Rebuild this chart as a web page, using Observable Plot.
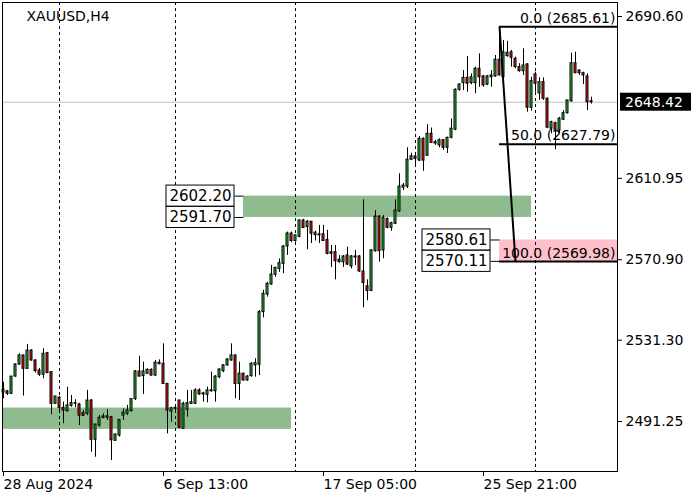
<!DOCTYPE html>
<html><head><meta charset="utf-8">
<script src="https://cdn.jsdelivr.net/npm/d3@7"></script>
<script src="https://cdn.jsdelivr.net/npm/@observablehq/plot@0.6"></script>
<style>body{margin:0;background:#fff} #chart{width:700px;height:500px}</style>
</head><body><div id="chart"></div>
<script>
// ---- data (XAUUSD H4 bars) ----
const open = [2506.9,2506.1,2504.9,2513.4,2519.3,2523.8,2517.2,2526.2,2521.3,2516.4,
2514.3,2524.9,2515.6,2500.0,2503.0,2498.0,2496.4,2499.0,2500.0,2499.7,
2495.4,2495.1,2501.6,2482.3,2489.3,2493.1,2493.1,2493.4,2481.8,2484.4,
2494.2,2495.1,2496.4,2502.3,2515.9,2513.6,2514.8,2516.7,2513.9,2520.2,
2519.7,2509.8,2496.2,2497.5,2501.6,2487.7,2497.1,2500.0,2500.0,2506.6,
2504.6,2504.4,2506.2,2506.2,2513.1,2516.1,2518.9,2521.3,2523.8,2509.8,
2514.8,2511.5,2513.6,2518.9,2519.2,2545.1,2553.8,2558.7,2563.5,2566.4,
2568.9,2577.4,2583.8,2580.1,2582.2,2590.2,2587.0,2589.6,2583.0,2582.9,
2583.4,2580.6,2574.6,2574.6,2570.9,2569.7,2573.0,2567.6,2572.0,2572.5,
2565.1,2557.8,2555.5,2575.1,2592.1,2575.5,2591.0,2586.6,2588.6,2594.7,
2606.4,2606.9,2620.1,2621.7,2619.7,2630.4,2622.1,2632.9,2628.1,2627.2,
2629.7,2626.0,2630.9,2634.9,2654.5,2657.8,2660.4,2657.8,2657.8,2664.9,
2661.1,2657.1,2660.7,2661.1,2669.3,2660.7,2671.1,2673.0,2669.8,2665.7,
2663.7,2667.0,2645.7,2662.1,2652.8,2658.3,2650.1,2635.4,2638.1,2634.5,
2639.8,2643.0,2648.9,2667.6,2664.0,2662.7,2661.1,2648.9];
const high = [2510.6,2506.6,2513.4,2519.7,2524.6,2524.0,2529.2,2526.6,2521.8,2517.4,
2527.1,2525.3,2515.9,2503.6,2503.6,2500.8,2508.2,2504.1,2502.0,2500.2,
2496.7,2506.6,2502.1,2489.8,2494.2,2495.1,2497.1,2493.8,2484.9,2492.1,
2497.5,2499.2,2502.3,2516.4,2523.4,2520.5,2517.2,2517.2,2521.3,2521.6,
2529.5,2509.8,2498.3,2499.2,2501.8,2500.8,2506.6,2506.6,2507.4,2507.4,
2505.7,2508.2,2515.6,2513.9,2517.2,2519.3,2522.2,2529.5,2524.0,2520.5,
2515.1,2513.9,2520.2,2522.2,2545.9,2555.8,2559.8,2568.1,2567.2,2571.3,
2577.9,2584.5,2584.5,2582.9,2590.5,2590.8,2590.2,2589.7,2585.0,2587.8,
2587.8,2585.4,2577.9,2577.9,2573.0,2573.0,2577.1,2573.0,2575.5,2573.0,
2600.4,2561.0,2575.8,2595.1,2592.6,2592.6,2591.5,2589.4,2600.4,2613.2,
2608.4,2626.0,2623.3,2622.2,2631.5,2630.9,2637.4,2635.7,2629.7,2630.4,
2630.0,2631.2,2640.2,2655.0,2657.5,2664.0,2670.9,2662.4,2665.7,2672.2,
2661.6,2661.6,2664.0,2671.4,2685.61,2678.8,2678.4,2673.9,2670.6,2667.4,
2674.7,2667.4,2660.7,2663.2,2660.4,2660.4,2650.6,2639.1,2638.6,2641.0,
2644.3,2649.3,2672.5,2673.0,2664.4,2663.2,2662.4,2650.9];
const low = [2502.5,2504.1,2504.6,2513.1,2518.9,2503.8,2517.0,2521.0,2515.1,2513.4,
2512.3,2514.9,2494.6,2499.7,2495.9,2490.2,2495.9,2498.3,2498.0,2489.3,
2493.8,2494.2,2476.2,2473.7,2488.5,2492.6,2491.8,2472.1,2481.5,2483.6,
2491.8,2494.2,2495.9,2501.6,2513.1,2504.6,2514.4,2513.6,2513.4,2519.2,
2509.5,2485.2,2490.9,2496.7,2487.7,2487.5,2493.4,2499.7,2499.7,2504.2,
2500.8,2500.5,2505.7,2500.8,2512.3,2515.3,2518.5,2521.0,2502.5,2501.6,
2511.1,2511.1,2513.1,2513.1,2513.9,2542.3,2552.5,2558.4,2562.3,2564.7,
2564.0,2573.0,2579.3,2579.6,2581.7,2586.2,2575.8,2578.9,2580.1,2578.9,
2579.9,2573.3,2567.1,2561.0,2569.2,2567.1,2568.1,2566.4,2568.1,2564.7,
2547.2,2550.7,2555.3,2574.6,2569.7,2571.4,2586.1,2584.9,2588.2,2594.2,
2604.9,2605.9,2619.7,2616.8,2619.2,2614.4,2621.8,2628.1,2627.2,2626.0,
2624.7,2623.2,2630.4,2634.4,2653.8,2654.2,2653.3,2657.0,2652.6,2655.8,
2655.8,2656.6,2655.8,2660.7,2661.3,2659.1,2670.6,2665.7,2664.9,2663.2,
2661.6,2643.5,2644.0,2653.3,2649.3,2649.3,2635.4,2632.9,2625.0,2632.9,
2639.4,2642.6,2648.4,2662.4,2661.6,2657.1,2644.3,2647.5];
const close = [2505.6,2504.9,2513.4,2519.3,2523.8,2517.2,2526.2,2521.3,2516.1,2514.3,
2524.6,2515.1,2500.0,2503.6,2498.0,2496.7,2499.2,2500.3,2500.3,2494.2,
2494.1,2501.6,2482.3,2489.8,2493.1,2493.8,2493.8,2482.0,2484.9,2492.1,
2495.7,2496.7,2502.3,2515.9,2513.4,2515.9,2516.7,2513.9,2520.2,2519.5,
2509.8,2496.7,2497.8,2498.0,2488.2,2500.0,2500.3,2500.8,2506.6,2504.6,
2505.1,2506.6,2506.6,2513.4,2516.9,2518.9,2521.8,2523.8,2509.8,2514.8,
2511.5,2513.4,2519.7,2520.0,2545.1,2554.1,2559.0,2563.6,2566.9,2569.2,
2577.4,2583.8,2580.1,2582.9,2590.2,2586.5,2589.6,2583.7,2584.2,2583.4,
2580.1,2573.8,2573.8,2570.2,2569.7,2572.5,2568.5,2572.5,2572.5,2565.1,
2559.4,2555.5,2575.5,2592.1,2575.1,2591.5,2586.6,2588.9,2595.1,2606.9,
2607.4,2620.1,2621.8,2620.5,2630.4,2619.7,2632.9,2628.4,2628.8,2629.7,
2626.0,2630.9,2635.4,2654.5,2657.1,2660.4,2657.5,2660.7,2664.9,2660.7,
2656.7,2661.1,2661.6,2669.3,2661.6,2673.0,2672.7,2670.3,2665.7,2663.7,
2666.5,2645.7,2658.8,2657.5,2658.3,2650.1,2635.9,2638.6,2634.5,2640.3,
2643.0,2649.3,2667.6,2662.7,2662.7,2661.6,2648.4,2648.42];

const yTicks = [2690.60, 2610.95, 2570.90, 2531.30, 2491.25];
const xTickIdx = [0, 40, 80, 120];
const xTickLabels = ["28 Aug 2024", "6 Sep 13:00", "17 Sep 05:00", "25 Sep 21:00"];
const gridIdx = [14, 43, 73, 103, 133];
const lastPrice = 2648.42;

// zones (rectangles)
const zoneLow   = [2591.70, 2570.11, 2487.40];
const zoneHigh  = [2602.20, 2580.61, 2497.90];
const zoneStart = [60, 124, null];
const zoneEnd   = [132, null, 72];
const zoneLabelled = [true, true, false];

// Fibonacci retracement
const fibLevels = [0, 50, 100];
const fibPrices = [2685.61, 2627.79, 2569.98];
const fibFrom = 124, fibTo = 128;

// ---- build ----
const X0 = -0.25, X1 = 153.5;
const bars = d3.range(open.length).map(i => ({i, o: open[i], h: high[i], l: low[i], c: close[i]}));
const bull = bars.filter(d => d.c >= d.o), bear = bars.filter(d => d.c < d.o);
const zoneColors = ["#8fbc8f", "#ffc0cb", "#8fbc8f"];
const zones = zoneLow.map((lo, k) => ({lo, hi: zoneHigh[k], x1: zoneStart[k] ?? X0, x2: zoneEnd[k] ?? X1, k}));
const boxes = [];
zones.forEach((z, k) => { if (zoneLabelled[k]) { [z.hi, z.lo].forEach(p => boxes.push({p, start: z.x1, end: z.x1 - 2.25})); } });
const halfBox = 5.2;

const candleBody = (data, fill) => Plot.rect(data, {x1: d => d.i - 0.25, x2: d => d.i + 0.25, y1: "o", y2: "c", fill, stroke: "black", strokeWidth: 1});

const chart = Plot.plot({
  width: 700, height: 500,
  marginLeft: 2, marginRight: 83, marginTop: 2, marginBottom: 29,
  x: {domain: [X0, X1]},
  y: {domain: [2466.68, 2697.49]},
  style: {fontFamily: "DejaVu Sans", fontSize: "14px", color: "black", background: "white", overflow: "visible"},
  marks: [
    ...zones.map((z, k) => Plot.rect([z], {x1: "x1", x2: "x2", y1: "lo", y2: "hi", fill: zoneColors[k]})),
    Plot.ruleX(gridIdx, {stroke: "black", strokeDasharray: "3,3"}),
    Plot.ruleY([lastPrice], {stroke: "#c0c0c0"}),
    Plot.ruleX(bars, {x: "i", y1: "l", y2: "h", stroke: "black"}),
    candleBody(bull, "#2dc22d"),
    candleBody(bear, "#e41b1b"),
    // zone price labels
    Plot.link(boxes, {x1: "end", x2: "start", y1: "p", y2: "p", stroke: "black"}),
    Plot.rect(boxes, {x1: d => d.end - 17, x2: "end", y1: d => d.p - halfBox, y2: d => d.p + halfBox, fill: "white", stroke: "black"}),
    Plot.text(boxes, {x: d => d.end - 8.5, y: "p", text: d => d.p.toFixed(2), textAnchor: "middle", fill: "black", fontSize: 15}),
    // fibonacci
    Plot.ruleY(fibPrices, {x1: fibFrom, x2: X1, stroke: "black", strokeWidth: 2}),
    Plot.link([0], {x1: fibFrom, y1: fibPrices[0], x2: fibTo, y2: fibPrices[2], stroke: "black", strokeWidth: 2}),
    Plot.text(fibLevels, {x: X1, y: (d, i) => fibPrices[i], text: (d, i) => `${d.toFixed(1)} (${fibPrices[i].toFixed(2)})`, textAnchor: "end", lineAnchor: "bottom", dx: -2, dy: -4, fill: "black"}),
    // axes
    Plot.axisY({anchor: "right", ticks: yTicks, tickFormat: d => d.toFixed(2), tickSize: 4, tickPadding: 4}),
    Plot.axisX({anchor: "bottom", ticks: xTickIdx, tickFormat: d => xTickLabels[xTickIdx.indexOf(d)], tickSize: 5, tickPadding: 3, textAnchor: "start"}),
    Plot.frame({stroke: "black"}),
    Plot.text(["XAUUSD,H4"], {frameAnchor: "top-left", dx: 24, dy: 9, lineAnchor: "top", textAnchor: "start", fill: "black"})
  ]
});
document.getElementById("chart").appendChild(chart);

// last-price tag on the price axis
const py = chart.scale("y").apply(lastPrice);
const svg = d3.select(chart);
svg.append("rect").attr("x", 620).attr("y", py - 9).attr("width", 71).attr("height", 18).attr("fill", "black");
svg.append("text").attr("x", 625).attr("y", py + 5).attr("fill", "white").attr("text-anchor", "start")
  .attr("font-family", "DejaVu Sans").attr("font-size", 14).text(lastPrice.toFixed(2));
</script>
</body></html>
